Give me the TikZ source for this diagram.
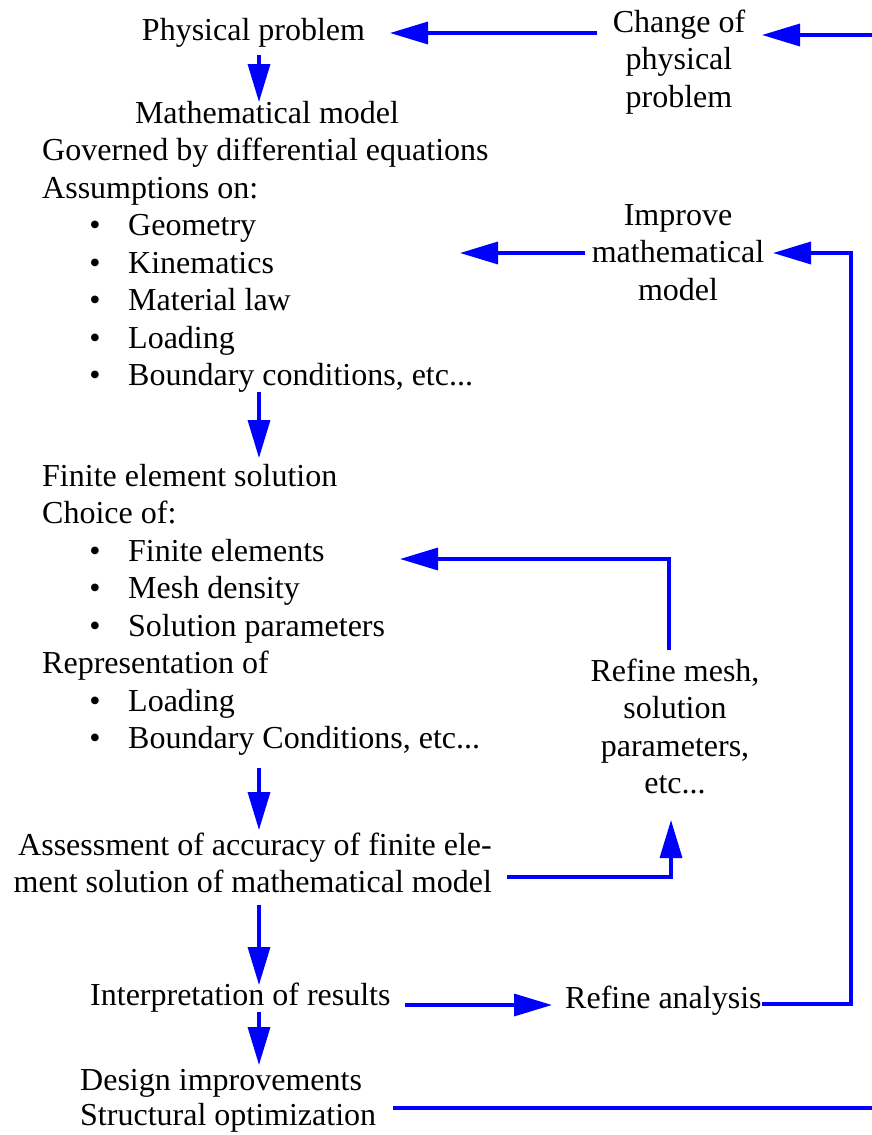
\documentclass[tikz,border=0pt]{standalone}
\usepackage{fontspec}
\setmainfont{Liberation Serif}
\usetikzlibrary{arrows.meta}
\begin{document}
\begin{tikzpicture}[x=1pt,y=-1pt,
  every node/.style={inner sep=0pt, font=\fontsize{32}{37.5}\selectfont},
  lt/.style={anchor=base west},
  ct/.style={anchor=base},
  rt/.style={anchor=base east},
  bul/.style={anchor=base},
  conn/.style={draw=blue, line width=3.4pt},
  arr/.style={conn, -{Triangle[length=38pt,width=22pt]}}]
\useasboundingbox (0,0) rectangle (872,1135);
% top
\node[ct] (phys) at (253.5,40) {Physical problem};
\node[ct] (chg1) at (679,32) {Change of};
\node[ct] (chg2) at (679,69.5) {physical};
\node[ct] (chg3) at (679,107) {problem};
% math model
\node[ct] (math) at (267,123) {Mathematical model};
\node[lt] (gov) at (42,160.5) {Governed by differential equations};
\node[lt] (ass) at (42,198) {Assumptions on:};
\node[bul] (b1) at (95,235.5) {•}; \node[lt] (geo) at (128,235.5) {Geometry};
\node[bul] (b2) at (95,273) {•}; \node[lt] (kin) at (128,273) {Kinematics};
\node[bul] (b3) at (95,310.5) {•}; \node[lt] (mat) at (128,310.5) {Material law};
\node[bul] (b4) at (95,348) {•}; \node[lt] (load) at (128,348) {Loading};
\node[bul] (b5) at (95,385.5) {•}; \node[lt] (bc) at (128,385.5) {Boundary conditions, etc...};
% improve
\node[ct] (imp1) at (678,225) {Improve};
\node[ct] (imp2) at (678,262.5) {mathematical};
\node[ct] (imp3) at (678,300) {model};
% FE solution
\node[lt] (fe) at (42,486) {Finite element solution};
\node[lt] (cho) at (42,523.5) {Choice of:};
\node[bul] (b6) at (95,561) {•}; \node[lt] (fel) at (128,561) {Finite elements};
\node[bul] (b7) at (95,598.5) {•}; \node[lt] (mesh) at (128,598.5) {Mesh density};
\node[bul] (b8) at (95,636) {•}; \node[lt] (solp) at (128,636) {Solution parameters};
\node[lt] (rep) at (42,673.5) {Representation of};
\node[bul] (b9) at (95,711) {•}; \node[lt] (load2) at (128,711) {Loading};
\node[bul] (b10) at (95,748.5) {•}; \node[lt] (bc2) at (128,748.5) {Boundary Conditions, etc...};
% refine mesh
\node[ct] (rm1) at (675,681) {Refine mesh,};
\node[ct] (rm2) at (675,718.5) {solution};
\node[ct] (rm3) at (675,756) {parameters,};
\node[ct] (rm4) at (675,793.5) {etc...};
% assessment
\node[rt] (as1) at (492,855) {Assessment of accuracy of finite ele-};
\node[rt] (as2) at (492,892) {ment solution of mathematical model};
% interpretation
\node[lt] (interp) at (90,1005) {Interpretation of results};
\node[lt] (refan) at (565,1008) {Refine analysis};
\node[lt] (des1) at (80,1090) {Design improvements};
\node[lt] (des2) at (80,1125) {Structural optimization};
% connector coordinates
\coordinate (rightTop) at (872,35);
\coordinate (rightBot) at (872,1108);
\coordinate (c1s) at (597,33);   \coordinate (c1e) at (390,33);
\coordinate (c2e) at (762,35);
\coordinate (d1s) at (259,55);   \coordinate (d1e) at (259,102);
\coordinate (d2s) at (259,392);  \coordinate (d2e) at (259,458);
\coordinate (d3s) at (259,768);  \coordinate (d3e) at (259,830);
\coordinate (d4s) at (259,905);  \coordinate (d4e) at (259,985);
\coordinate (d5s) at (259,1012); \coordinate (d5e) at (259,1065);
\coordinate (h1s) at (405,1005); \coordinate (h1e) at (552,1005);
\coordinate (ra1) at (762,1004); \coordinate (ra2) at (851,1004);
\coordinate (ra3) at (851,253);  \coordinate (ra4) at (773,253);
\coordinate (im1) at (585,253);  \coordinate (im2) at (460,253);
\coordinate (rm1s) at (669,650); \coordinate (rm1c) at (669,559); \coordinate (rm1e) at (400,559);
\coordinate (as1s) at (507,877); \coordinate (as1c) at (671,877); \coordinate (as1e) at (671,820);
\coordinate (ds1) at (393,1108);
% connectors
\draw[arr] (c1s) -- (c1e);
\draw[arr] (rightTop) -- (c2e);
\draw[arr] (d1s) -- (d1e);
\draw[arr] (d2s) -- (d2e);
\draw[arr] (d3s) -- (d3e);
\draw[arr] (d4s) -- (d4e);
\draw[arr] (d5s) -- (d5e);
\draw[arr] (h1s) -- (h1e);
\draw[arr] (ra1) -- (ra2) -- (ra3) -- (ra4);
\draw[arr] (im1) -- (im2);
\draw[arr] (rm1s) -- (rm1c) -- (rm1e);
\draw[arr] (as1s) -- (as1c) -- (as1e);
\draw[conn] (ds1) -- (rightBot);
\end{tikzpicture}
\end{document}
